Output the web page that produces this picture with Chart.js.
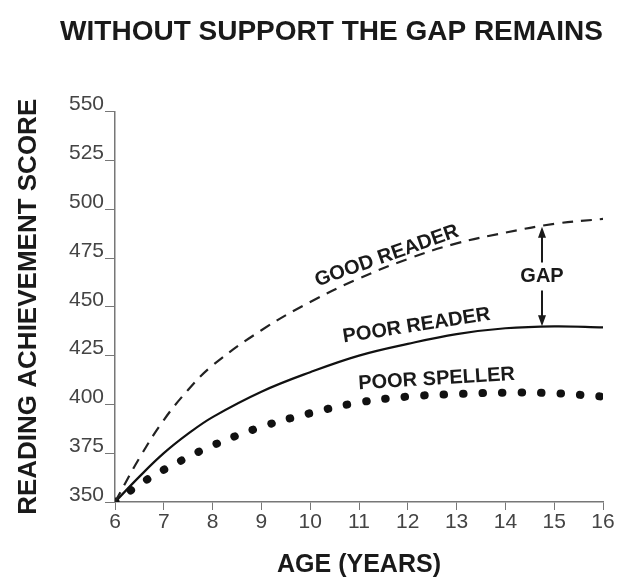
<!DOCTYPE html>
<html lang="en">
<head>
  <meta charset="UTF-8">
  <title>Without support the gap remains</title>
  <script src="https://cdn.jsdelivr.net/npm/chart.js"></script>
  <style>
    html, body {
      margin: 0;
      padding: 0;
      background: #fff;
    }
    #graficoContainer {
      width: 622px;
      height: 580px;
    }
  </style>
</head>
<body>

  <div id="graficoContainer">
    <canvas id="grafico" width="622" height="580"></canvas>
  </div>

  <script>
    // ages on the x axis (years); half years early on where the curves bend most
    const ages = [6, 6.5, 7, 7.5, 8, 9, 10, 11, 12, 13, 14, 15, 16];
    // reading achievement score
    const goodReader  = [350, 372.5, 392, 407.5, 420, 438, 452.5, 464.5, 474.5, 482.5, 488, 492.5, 495];
    const poorReader  = [350, 363, 375, 385, 393.5, 406.5, 416.5, 425, 431, 436, 439, 440, 439.5];
    const poorSpeller = [350, 359, 366.5, 373, 379, 388.5, 395.5, 401, 404, 405.3, 406, 405.7, 404];

    // labels along the curves: text, age, score, angle (deg)
    const curveLabels = [
      ['GOOD READER', 11.57, 476, -19.5],
      ['POOR READER', 12.18, 440.3, -8.8],
      ['POOR SPELLER', 12.59, 413, -3.5]
    ];
    // gap arrow between good and poor reader
    const gapAge = 14.75;
    const gapTop = 491;
    const gapBottom = 440;

    const fonte = '"Liberation Sans", Arial, sans-serif';
    Chart.defaults.font.family = fonte;

    const pontos = serie => ages.map((a, i) => ({ x: a, y: serie[i] }));

    const anotacoes = {
      id: 'anotacoes',
      afterDatasetsDraw(chart) {
        const { ctx, scales: { x, y } } = chart;
        ctx.save();
        ctx.fillStyle = '#1a1a1a';
        ctx.strokeStyle = '#1a1a1a';
        ctx.font = 'bold 20px ' + fonte;
        ctx.textAlign = 'center';
        ctx.textBaseline = 'middle';

        curveLabels.forEach(([texto, a, s, ang]) => {
          ctx.save();
          ctx.translate(x.getPixelForValue(a), y.getPixelForValue(s));
          ctx.rotate(ang * Math.PI / 180);
          ctx.fillText(texto, 0, 0);
          ctx.restore();
        });

        const gx = x.getPixelForValue(gapAge);
        const yT = y.getPixelForValue(gapTop);
        const yB = y.getPixelForValue(gapBottom);
        const yM = (yT + yB) / 2;
        ctx.fillText('GAP', gx, yM);

        ctx.lineWidth = 2;
        ctx.beginPath();
        ctx.moveTo(gx, yM - 14); ctx.lineTo(gx, yT + 8);
        ctx.moveTo(gx, yM + 14); ctx.lineTo(gx, yB - 8);
        ctx.stroke();

        ctx.beginPath();
        ctx.moveTo(gx, yT); ctx.lineTo(gx - 4, yT + 11); ctx.lineTo(gx + 4, yT + 11); ctx.closePath();
        ctx.moveTo(gx, yB); ctx.lineTo(gx - 4, yB - 11); ctx.lineTo(gx + 4, yB - 11); ctx.closePath();
        ctx.fill();
        ctx.restore();
      }
    };

    const ctx = document.getElementById('grafico').getContext('2d');
    const chart = new Chart(ctx, {
      type: 'line',
      data: {
        datasets: [
          {
            label: 'Good reader',
            data: pontos(goodReader),
            borderColor: '#222',
            borderWidth: 2.2,
            borderDash: [11, 8],
            tension: 0.4,
            pointRadius: 0
          },
          {
            label: 'Poor reader',
            data: pontos(poorReader),
            borderColor: '#111',
            borderWidth: 2.2,
            tension: 0.4,
            pointRadius: 0
          },
          {
            label: 'Poor speller',
            data: pontos(poorSpeller),
            borderColor: '#111',
            borderWidth: 8,
            borderDash: [0.5, 19],
            borderCapStyle: 'round',
            tension: 0.4,
            pointRadius: 0
          }
        ]
      },
      options: {
        responsive: false,
        animation: false,
        devicePixelRatio: 1,
        layout: { padding: { left: 0, right: 19, top: 0, bottom: 0 } },
        plugins: {
          legend: { display: false },
          tooltip: { enabled: false },
          title: {
            display: true,
            text: 'WITHOUT SUPPORT THE GAP REMAINS',
            align: 'end',
            color: '#1a1a1a',
            font: { size: 28, weight: 'bold' },
            padding: { top: 15, bottom: 63 }
          }
        },
        scales: {
          x: {
            type: 'linear',
            min: 6,
            max: 16,
            afterFit: s => { s.height = 78; },
            ticks: { stepSize: 1, color: '#444', font: { size: 21 }, padding: 0, maxRotation: 0 },
            grid: { drawOnChartArea: false, drawTicks: true, tickLength: 8, color: '#777' },
            border: { display: true, color: '#777', width: 1.5 },
            title: {
              display: true,
              text: 'AGE (YEARS)',
              color: '#1a1a1a',
              font: { size: 25, weight: 'bold' },
              padding: { top: 0, bottom: 0 }
            }
          },
          y: {
            min: 350,
            max: 550,
            afterFit: s => { s.width = 115; },
            ticks: { stepSize: 25, color: '#444', font: { size: 21 }, padding: 1, labelOffset: -7 },
            grid: { drawOnChartArea: false, drawTicks: true, tickLength: 10, color: '#777' },
            border: { display: true, color: '#777', width: 1.5 },
            title: {
              display: true,
              text: 'READING ACHIEVEMENT SCORE',
              color: '#1a1a1a',
              font: { size: 26, weight: 'bold' },
              padding: { top: 13, bottom: 0 }
            }
          }
        }
      },
      plugins: [anotacoes]
    });
  </script>
</body>
</html>
